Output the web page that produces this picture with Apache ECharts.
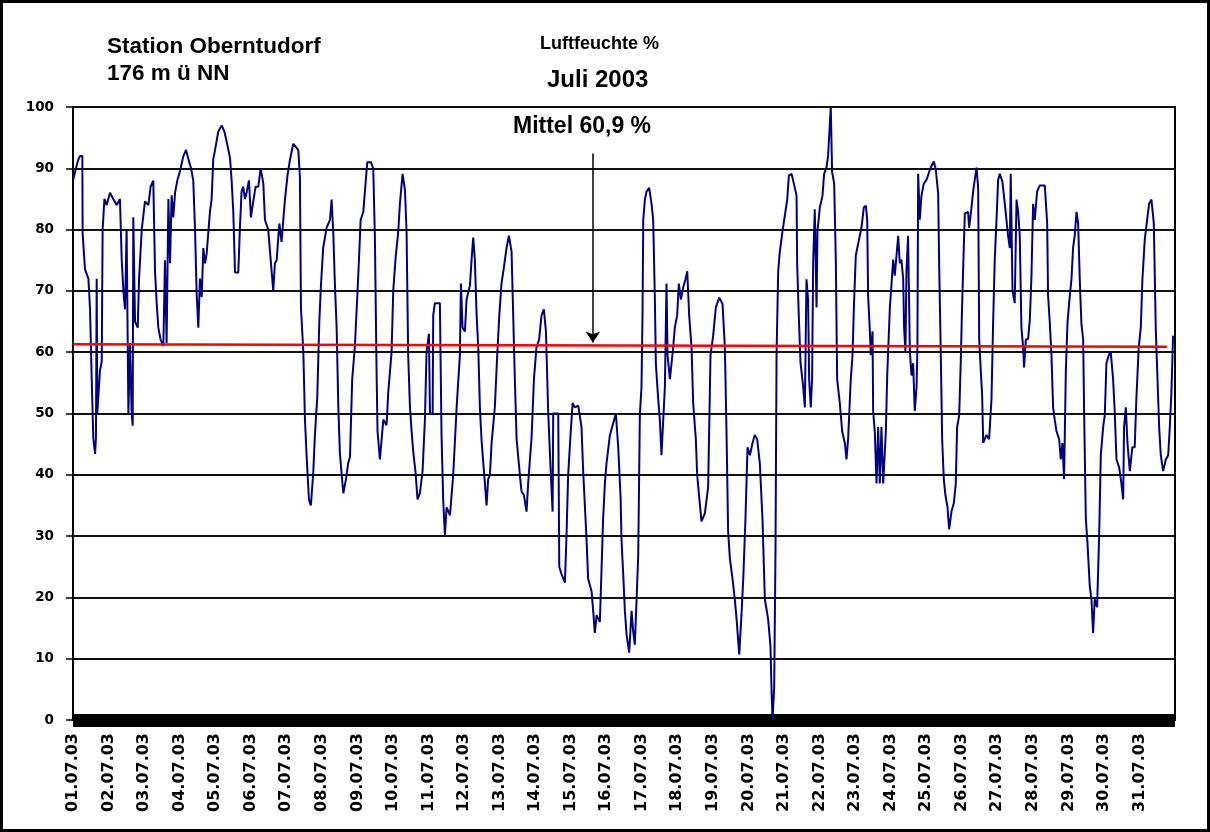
<!DOCTYPE html>
<html>
<head>
<meta charset="utf-8">
<script src="https://cdn.jsdelivr.net/npm/echarts@6/dist/echarts.min.js"></script>
<style>
html,body{margin:0;padding:0;background:#fff;}
#wrap{position:relative;width:1210px;height:832px;}
#c{position:absolute;left:0;top:0;width:1210px;height:832px;}
#frame{position:absolute;left:0;top:0;width:1210px;height:832px;box-sizing:border-box;border:3px solid #000;pointer-events:none;z-index:10;}
</style>
</head>
<body>
<div id="wrap"><div id="c"></div><div id="frame"></div></div>
<script>
// Tick labels (one per day, 24 h apart)
const dayLabels = ['01.07.03','02.07.03','03.07.03','04.07.03','05.07.03','06.07.03','07.07.03','08.07.03','09.07.03','10.07.03',
  '11.07.03','12.07.03','13.07.03','14.07.03','15.07.03','16.07.03','17.07.03','18.07.03','19.07.03','20.07.03',
  '21.07.03','22.07.03','23.07.03','24.07.03','25.07.03','26.07.03','27.07.03','28.07.03','29.07.03','30.07.03','31.07.03'];

// Time of each reading, hours since 01.07.03 00:00
const hours = [
0,2.5,3.6,4.7,6.3,6.5,8.1,10.4,11.5,12.6,13.7,14.9,15.5,16,16.4,18.2,19.4,20,21.2,22.7,
25,27.2,29.5,31.7,32.9,34,35.1,36.2,37.4,38.5,39.6,40.3,40.7,41.9,43.7,44.6,46.4,48.6,50.9,52.4,
54.2,55.4,56.5,57.6,59.2,61,62.1,63.2,64.4,65.5,66.6,67.7,68.9,70.4,72.2,74.5,76.3,77.9,79.7,81.2,
82.4,83.5,84.6,85.7,86.9,88,89.1,90.2,92.5,93.6,94.7,95.9,98.1,100.4,102.2,103.7,106,107.1,108.2,109.4,
111.6,112.7,113.8,114.9,116.1,117.2,118.8,120.1,121.7,123.3,125.1,126.7,128.5,129.6,131.8,133,134.1,135.2,136.3,137.5,
139.3,140.8,142,143.1,144.9,146.5,148.7,149.8,152.1,153.2,153.9,155.5,156.6,157.7,159.3,160.6,162.2,163.3,164.9,166.3,
167.4,168.9,171.2,173.5,174.6,175.7,176.8,178,179.1,180.2,181.3,182.5,184.3,185.8,187,188.5,190.3,192.6,194.2,196,
197.5,198.7,201.1,202.7,203.8,205,205.6,207.2,209.5,211.7,212.8,215.1,216.2,217.8,219.6,220.7,222.5,224.1,225.2,226.3,
227.5,228.6,229.7,231.3,232.6,234.2,236,237.6,238.7,240.3,241,242.8,243.2,244.3,247.7,248.8,250,251.1,252.2,254.5,
256.7,259,261.2,261.9,263,264.6,265.7,268,269.1,270.2,271.3,272.5,273.6,274.7,275.8,277,278.1,279.2,280.3,281.5,
282.6,284.8,286.4,287.8,289.3,290.9,292.7,294.3,296.1,297.2,298.3,299.5,301.7,302.8,304.4,306.2,307.3,309.6,311.2,312.9,
314.7,316.3,317.9,319.3,320.8,322.4,323.8,324.2,327.6,328.3,329.8,332.1,333.2,334.3,335.9,337.3,338.8,341.1,343.3,344.5,
346.7,347.8,350.1,351.2,352.3,353.5,355.7,356.8,357.9,359.1,360.2,362.5,364.7,366.5,368.1,369.7,370.3,371.5,372.6,373.7,
375.5,377.1,378.2,379.3,380.5,381.6,382.7,383.8,384.5,385,386.1,387.2,389,390.6,391.7,392.8,393.5,395.1,396.2,397.3,
398.5,399.6,400.7,401.4,403,404.1,405.2,406.3,407.9,409,410.4,412,413.5,414.7,416,417.6,418.7,420.5,421.4,422.8,
424.3,426.6,428.8,430.4,432.2,434,436.3,438.5,440.1,441.2,442.3,443.5,445.3,446.8,448,449.8,451.3,452.5,454,455.4,
457,458.8,460.3,461.9,463.7,465.5,467.1,469.3,470.9,471.6,472.3,473.4,474.3,475,476.1,477.2,479,480.6,482.2,483.3,
485.1,486.7,488.5,488.9,490,491.2,493,494.1,495.2,496.3,497,498.1,499,499.7,500.8,502,502.6,504.2,506,507.1,
508.7,509.8,511,511.6,512.5,513.9,515,515.9,517.7,519.3,521.1,522.2,523.3,524.5,525.1,526.3,527.2,528.5,530.1,532.3,
533.9,535.3,536.2,536.8,538,538.6,539.8,540.2,541.3,542.5,543.6,544.7,545.8,547,548.1,548.8,549.7,551.5,553,553.7,
554.8,556,557.1,558.2,559.3,560.5,561.1,562,562.7,563.8,565,566.1,567.2,568.3,569.5,570.1,570.6,571.7,572.8,574.4,
576.2,578,579.6,581.2,582.5,584.1,584.8,585.7,586.8,587.9,589,590.4,591.5,593.1,594.7,596,596.9,598.3,599.4,600.1,
601,602.1,604.3,605,606.6,607.7,608.8,610,611.1,611.8,612.9,613.8,614.5,616.7,618.5,620.1,621.2,622.3,623.5,624.6,
625.7,627.5,629.1,630.2,631.3,632.5,633.1,634.3,635.8,637,638.1,639.2,640.3,641.5,642.1,643.3,644.8,646,647.1,648.2,
649.3,650.9,652.7,656.1,657.7,658.3,659.5,660.6,661.7,662.8,664,665.8,666.9,668,669.1,670.3,671.4,672.5,674.1,675.2,
676.3,677.5,678.6,679.7,680.8,682,682.6,683.8,684.9,686.5,687.6,688.7,689.8,691.4,692.8,693.9,695.5,696.6,697.7,699.3,
700.6,702.2,703.3,704.5,706.3,707.8,709,709.6,710.8,711.9,713.5,715.2,716.8,717.9,719.5,720.9,722,723.6,725.2,726.5,
728.1,729.7,731,732.2,733.3,734.4,736,737.8,739.4,740.5,741.6,742.7
];

// Relative humidity (%) at each of those times
const humidity = [
88,90.5,91.4,92,92,79.4,73.5,72,67,56,46,43.4,46,72,50,57,58.5,80,85,84,
86,85,84,85,75,70,67,80,50,61.5,50,48,82,65,64,72,80,84.6,84,87,
88,73,68,64,62,61,75,61.5,85,74.5,85.6,82,86,88,89.5,92,93,91.5,90,88,
80,69.4,64,72,69,77,74.5,76,83,85,91.5,93,96,97,96,94.4,91.7,88,83,73,
73,80.3,86.2,87,85,86,88,82,84.6,87,87,90,87.5,81.6,80,76.4,73.2,70,74.5,75,
81,78,81.6,84.9,89,91.4,94,94.3,93,88.5,67.3,60.1,49,43.2,36,35,40.3,46.4,52.6,65,
70.9,77,80.3,81.6,84.9,79.7,71.2,64,51.3,43.5,40.3,37,39.3,41.9,42.9,55.6,60.9,72.5,81.6,82.9,
87.5,91,91,90,79,56.2,47.1,42.5,49,48.1,53.3,60.1,70,75.4,79.7,84.2,89.1,86.5,79.7,59.5,
51,47.1,43.8,40.3,36,37,40.6,49,60.1,63,50,50,66,68,68,46.5,35.4,30.2,34.7,33.4,
40,51,59.5,71.2,64,63.4,68.6,70.9,75.1,78.7,75.1,66,60.8,51,45.8,41.9,38.6,35,39.3,40,
45.2,51,59.5,66,71.2,73.8,77,79,76.4,66,55.6,45.8,40,37.3,36.7,34,38.6,46.1,55.6,60.8,
62.1,66,67,63.4,50.4,41.2,34,50,50,25,23.8,22.4,30.2,40,46.5,51.7,51,51.3,47.8,40.3,
29.5,23,21,17.8,14.2,17.1,16,24.3,32.8,38.6,41.9,46.5,48.4,50,44.5,36.3,29.5,23.6,17.8,14,
11,17.8,14.5,12.3,19.7,26.8,49.7,54.3,66,81.6,84.9,86.2,86.8,84.2,81.6,69.3,58.2,52.3,49,43.2,
49,54.3,71.2,59.5,55.6,58.2,60.8,64,66,71.2,68.6,70.6,71.9,73.2,66,60.8,51.7,45.8,40,36.3,
32.4,33.7,38,59.5,62.7,67.3,68.9,67.9,60.8,47.1,30.8,26.3,23,19.7,16.5,10.7,17.1,23,32.8,44.5,
43.2,45.2,46.5,45.8,41.9,32.8,19.7,16.5,12,4.8,0,5.4,28.2,59.5,73.2,76.4,79.7,82.3,84.9,88.8,
89.1,87.5,85.5,74.5,66,58.2,54.3,51,71.9,68.6,55.6,51,55.6,74.5,83.3,67.3,79.7,83.6,85.5,89.1,
90.1,92.1,92.1,100,89.4,87.5,75.1,55.6,51.7,47.1,45.2,42.5,45.8,45.8,55.6,59.5,67.3,75.8,77.7,80.3,
83.6,83.9,81.6,69.3,63.4,59.5,63.4,50.4,47.1,38.6,47.8,38.6,47.8,38.6,38.6,47.1,56.2,67.3,72.5,75.1,
72.5,75.8,79,74.5,75.1,71.9,64,60.1,73.2,79,60.1,56.2,58.2,50.4,54.3,60.8,89.1,81.6,85.5,87.5,
88.1,89.4,90.4,91.1,89.8,85.9,73.8,62.1,45.8,39.3,36.7,34.7,31.1,34,35.4,38.6,47.8,49.7,58.8,66,
73.8,82.6,82.9,80.3,83.6,86.2,88.1,90.1,86.8,62.1,56.9,53,45.2,46.5,45.8,52.3,64.7,75.1,81.6,88.1,
89.1,87.8,84.2,84.2,79,77,89.1,70,68,84.9,82.9,79,64,60.8,57.5,62.1,62.1,65.3,72.5,84.2,
81.6,86.2,87.2,87.2,81,69.3,64.7,59.5,51,49,47.1,45.8,42.5,45.2,39.3,56.9,64.7,68,71.9,77,
79,82.9,81,71.9,64.7,62.1,51,32.8,28.9,21.7,19.7,14.2,19.7,18.4,30.2,43.2,47.8,49.7,58.2,59.5,
60.1,55.6,50.4,42.5,41.2,38.6,36,47.8,51,45.2,40.6,44.5,44.5,52.3,60.8,64,71.9,78.4,81.6,84.2,
84.9,81,64,55.6,47.8,43.2,40.6,42.5,43.2,47.8,53.6,62.7
];

// Monthly mean (trend line) and the annotation arrow, in data units
const meanHours = [0, 738.5];
const meanValues = [61.3, 60.9];
const arrowHours = [351, 351];
const arrowValues = [92.4, 61.6];

const seriesData = hours.map((h, i) => [h, humidity[i]]);
const meanData = meanHours.map((h, i) => [h, meanValues[i]]);

const titleFont = 'Liberation Sans, Arial, Helvetica, sans-serif';
const labelFont = 'DejaVu Sans, Verdana, sans-serif';

const chart = echarts.init(document.getElementById('c'), null, {renderer: 'canvas'});
chart.setOption({
  animation: false,
  backgroundColor: '#fff',
  title: [
    {text: 'Station Oberntudorf', left: 107, top: 35.5, padding: 0,
     textStyle: {fontFamily: titleFont, fontWeight: 'bold', fontSize: 22.5, lineHeight: 22.5, color: '#000'}},
    {text: '176 m ü NN', left: 107, top: 62.5, padding: 0,
     textStyle: {fontFamily: titleFont, fontWeight: 'bold', fontSize: 22.5, lineHeight: 22.5, color: '#000'}},
    {text: 'Luftfeuchte %', left: 540, top: 35.3, padding: 0,
     textStyle: {fontFamily: titleFont, fontWeight: 'bold', fontSize: 18, lineHeight: 18, color: '#000'}},
    {text: 'Juli 2003', left: 547, top: 68.3, padding: 0,
     textStyle: {fontFamily: titleFont, fontWeight: 'bold', fontSize: 24, lineHeight: 24, color: '#000'}},
    {text: 'Mittel 60,9 %', left: 513, top: 115.3, padding: 0,
     textStyle: {fontFamily: titleFont, fontWeight: 'bold', fontSize: 23, lineHeight: 23, color: '#000'}}
  ],
  grid: {left: 73, right: 35, top: 107, bottom: 112, show: true, borderColor: '#000', borderWidth: 2, backgroundColor: 'transparent'},
  xAxis: {
    type: 'value', min: 0, max: 744, interval: 24,
    axisLine: {show: true, onZero: false, lineStyle: {color: '#000', width: 13, cap: 'butt'}},
    axisTick: {show: false},
    splitLine: {show: false},
    axisLabel: {
      rotate: 90, margin: 13, color: '#000', fontFamily: labelFont, fontWeight: 'bold', fontSize: 16,
      formatter: function (v) { return dayLabels[Math.round(v / 24)] || ''; }
    }
  },
  yAxis: {
    type: 'value', min: 0, max: 100, interval: 10,
    axisLine: {show: true, lineStyle: {color: '#000', width: 2, cap: 'butt'}},
    axisTick: {show: true, length: 7, lineStyle: {color: '#000', width: 1.5}},
    splitLine: {show: true, lineStyle: {color: '#111', width: 2}},
    axisLabel: {margin: 19, color: '#000', fontFamily: labelFont, fontWeight: 'bold', fontSize: 13.5}
  },
  series: [
    {
      name: 'Luftfeuchte', type: 'line', data: seriesData, symbol: 'none', showSymbol: false,
      lineStyle: {color: '#000080', width: 2}, itemStyle: {color: '#000080'}, z: 2, silent: true
    },
    {
      name: 'Mittel', type: 'line', data: meanData, symbol: 'none', showSymbol: false,
      lineStyle: {color: '#ff0000', width: 2.5}, itemStyle: {color: '#ff0000'}, z: 3, silent: true,
      markLine: {
        silent: true, animation: false, symbol: ['none', 'arrow'], symbolSize: 11,
        lineStyle: {color: '#000', width: 1.5, type: 'solid'},
        itemStyle: {color: '#000'},
        label: {show: false},
        emphasis: {disabled: true},
        data: [[{coord: [arrowHours[0], arrowValues[0]]}, {coord: [arrowHours[1], arrowValues[1]]}]]
      }
    }
  ]
});
</script>
</body>
</html>
